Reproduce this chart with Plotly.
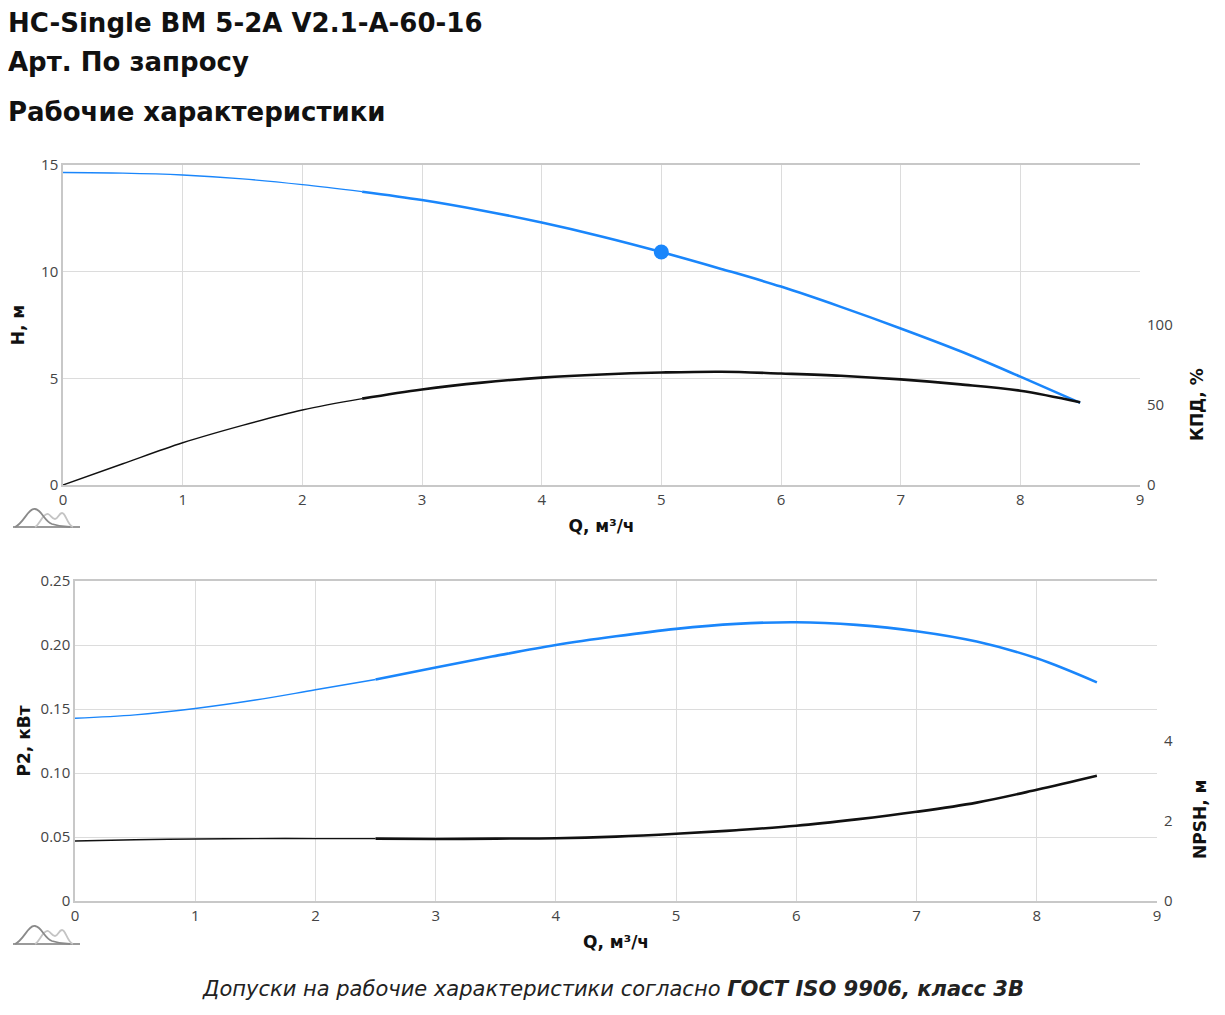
import plotly.graph_objects as go

# ---- data ----
q = [0, 0.5, 1, 1.5, 2, 2.5, 3, 3.5, 4, 4.5, 5, 5.5, 6, 6.5, 7, 7.5, 8, 8.5]
head = [14.65, 14.62, 14.53, 14.35, 14.08, 13.75, 13.36, 12.87, 12.30, 11.65,
        10.92, 10.13, 9.30, 8.35, 7.34, 6.27, 5.08, 3.85]
eff = [0, 13.3, 26.4, 37.3, 46.9, 54.0, 59.7, 64.0, 67.1, 69.1, 70.3, 70.8,
       69.7, 68.3, 66.0, 62.9, 58.9, 51.7]
p2 = [0.1428, 0.1454, 0.1504, 0.157, 0.165, 0.173, 0.1825, 0.1915, 0.200,
      0.2068, 0.2126, 0.2165, 0.2178, 0.2157, 0.2108, 0.2027, 0.1896, 0.1708]
npsh = [1.50, 1.53, 1.55, 1.56, 1.56, 1.56, 1.55, 1.56, 1.57, 1.61, 1.68,
        1.77, 1.88, 2.04, 2.23, 2.46, 2.78, 3.13]
duty_q = [5]
duty_h = [10.92]
q_work_start = 2.5

x_ticks = [0, 1, 2, 3, 4, 5, 6, 7, 8, 9]
h_ticks = [0, 5, 10, 15]
eff_ticks = [0, 50, 100]
p2_ticks = [0, 0.05, 0.10, 0.15, 0.20, 0.25]
p2_ticklabels = ["0", "0.05", "0.10", "0.15", "0.20", "0.25"]
npsh_ticks = [0, 2, 4]

BLUE = "#1a86fb"
BLACK = "#111111"

# figure sits at page offset (8, 8)
OFF = 8
W, H = 1210, 1000


def fx(x):
    return (x - OFF) / W


def fy(y):
    return 1 - (y - OFF) / H


def split(xs, ys):
    i0 = [i for i, v in enumerate(xs) if v <= q_work_start]
    i1 = [i for i, v in enumerate(xs) if v >= q_work_start]
    return ([xs[i] for i in i0], [ys[i] for i in i0]), ([xs[i] for i in i1], [ys[i] for i in i1])


fig = go.Figure()


def add_curve(xs, ys, color, xa, ya):
    (a_x, a_y), (b_x, b_y) = split(xs, ys)
    fig.add_trace(go.Scatter(x=a_x, y=a_y, mode="lines", line=dict(color=color, width=1.4, shape="spline"),
                             xaxis=xa, yaxis=ya, showlegend=False, hoverinfo="skip"))
    fig.add_trace(go.Scatter(x=b_x, y=b_y, mode="lines", line=dict(color=color, width=2.6, shape="spline"),
                             xaxis=xa, yaxis=ya, showlegend=False, hoverinfo="skip"))


add_curve(q, eff, BLACK, "x", "y2")
add_curve(q, head, BLUE, "x", "y")
fig.add_trace(go.Scatter(x=duty_q, y=duty_h, mode="markers", marker=dict(color=BLUE, size=15),
                         xaxis="x", yaxis="y", showlegend=False))
add_curve(q, npsh, BLACK, "x3", "y4")
add_curve(q, p2, BLUE, "x3", "y3")

tickfont = dict(family="Open Sans", size=15, color="#444")
titlefont = dict(family="DejaVu Sans", size=17, color="#111", weight="bold")
GRID = "#dcdcdc"
LINE = "#c8c8c8"

top_x = [fx(63), fx(1140)]
top_y = [fy(485), fy(165)]
bot_x = [fx(75), fx(1157)]
bot_y = [fy(901), fy(581)]

xcommon = dict(range=[0, 9], tickvals=x_ticks, showgrid=True, gridcolor=GRID, showline=True,
               linecolor=LINE, linewidth=1.5, mirror=True, zeroline=False, ticks="", tickfont=tickfont,
               automargin=False, title=dict(text="Q, м³/ч", font=titlefont, standoff=12))

fig.update_layout(
    width=W, height=H, autosize=False,
    margin=dict(l=0, r=0, t=0, b=0),
    paper_bgcolor="white", plot_bgcolor="white",
    xaxis=dict(domain=top_x, anchor="y", **xcommon),
    yaxis=dict(domain=top_y, anchor="x", range=[0, 15], tickvals=h_ticks, showgrid=True, gridcolor=GRID,
               showline=True, linecolor=LINE, linewidth=1.5, zeroline=False, ticks="", tickfont=tickfont,
               automargin=False, title=dict(text="H, м", font=titlefont, standoff=12)),
    yaxis2=dict(overlaying="y", anchor="x", side="right", range=[0, 200], tickvals=eff_ticks,
                showgrid=False, zeroline=False, showline=False, ticks="", tickfont=tickfont,
                ticklabelstandoff=6, automargin=False),
    xaxis3=dict(domain=bot_x, anchor="y3", **xcommon),
    yaxis3=dict(domain=bot_y, anchor="x3", range=[0, 0.25], tickvals=p2_ticks, ticktext=p2_ticklabels,
                showgrid=True, gridcolor=GRID, showline=True, linecolor=LINE, linewidth=1.5,
                zeroline=False, ticks="", tickfont=tickfont, automargin=False,
                title=dict(text="P2, кВт", font=titlefont, standoff=6)),
    yaxis4=dict(overlaying="y3", anchor="x3", side="right", range=[0, 8], tickvals=npsh_ticks,
                showgrid=False, zeroline=False, showline=False, ticks="", tickfont=tickfont,
                ticklabelstandoff=6, automargin=False),
)

# right-hand axis titles (centred on the labelled tick range)
fig.add_annotation(text="<b>КПД, %</b>", x=fx(1197), y=fy(405), xref="paper", yref="paper",
                   xanchor="center", yanchor="middle", textangle=-90, showarrow=False,
                   font=dict(family="DejaVu Sans", size=17, color="#111"))
fig.add_annotation(text="<b>NPSH, м</b>", x=fx(1200), y=fy(820), xref="paper", yref="paper",
                   xanchor="center", yanchor="middle", textangle=-90, showarrow=False,
                   font=dict(family="DejaVu Sans", size=17, color="#111"))

# headings
HEAD_FONT = dict(family="DejaVu Sans", size=26, color="#111")
fig.add_annotation(text="<b>HC-Single BM 5-2A V2.1-A-60-16</b>", x=fx(6), y=fy(23), xref="paper",
                   yref="paper", xanchor="left", yanchor="middle", showarrow=False, font=HEAD_FONT)
fig.add_annotation(text="<b>Арт. По запросу</b>", x=fx(6), y=fy(62), xref="paper",
                   yref="paper", xanchor="left", yanchor="middle", showarrow=False, font=HEAD_FONT)
fig.add_annotation(text="<b>Рабочие характеристики</b>", x=fx(6), y=fy(112), xref="paper",
                   yref="paper", xanchor="left", yanchor="middle", showarrow=False, font=HEAD_FONT)
fig.add_annotation(text="<i>Допуски на рабочие характеристики согласно <b>ГОСТ ISO 9906, класс 3В</b></i>",
                   x=fx(613), y=fy(989), xref="paper", yref="paper", xanchor="center",
                   yanchor="middle", showarrow=False,
                   font=dict(family="DejaVu Sans", size=21, color="#222"))


# small decorative icon under each chart
def px(x, y):
    return f"{fx(x):.5f},{fy(y):.5f}"


for oy in (0, 417):
    base = 527 + oy
    fig.add_shape(type="line", xref="paper", yref="paper", x0=fx(13), x1=fx(80),
                  y0=fy(base), y1=fy(base), line=dict(color="#9a9a9a", width=2))
    dark = (f"M {px(15, base)} C {px(24, base - 4)} {px(28, base - 19)} {px(35, base - 18)} "
            f"C {px(42, base - 17)} {px(44, base - 6)} {px(52, base - 3)} "
            f"C {px(58, base - 1)} {px(66, base)} {px(70, base)}")
    light = (f"M {px(35, base)} C {px(40, base - 3)} {px(43, base - 14)} {px(48, base - 13)} "
             f"C {px(51, base - 12)} {px(52, base - 8)} {px(55, base - 8)} "
             f"C {px(58, base - 8)} {px(59, base - 14)} {px(62, base - 14)} "
             f"C {px(66, base - 14)} {px(67, base - 2)} {px(73, base)}")
    fig.add_shape(type="path", xref="paper", yref="paper", path=light,
                  line=dict(color="#c4c4c4", width=1.8))
    fig.add_shape(type="path", xref="paper", yref="paper", path=dark,
                  line=dict(color="#8a8a8a", width=1.8))

fig.write_html("out.html")
